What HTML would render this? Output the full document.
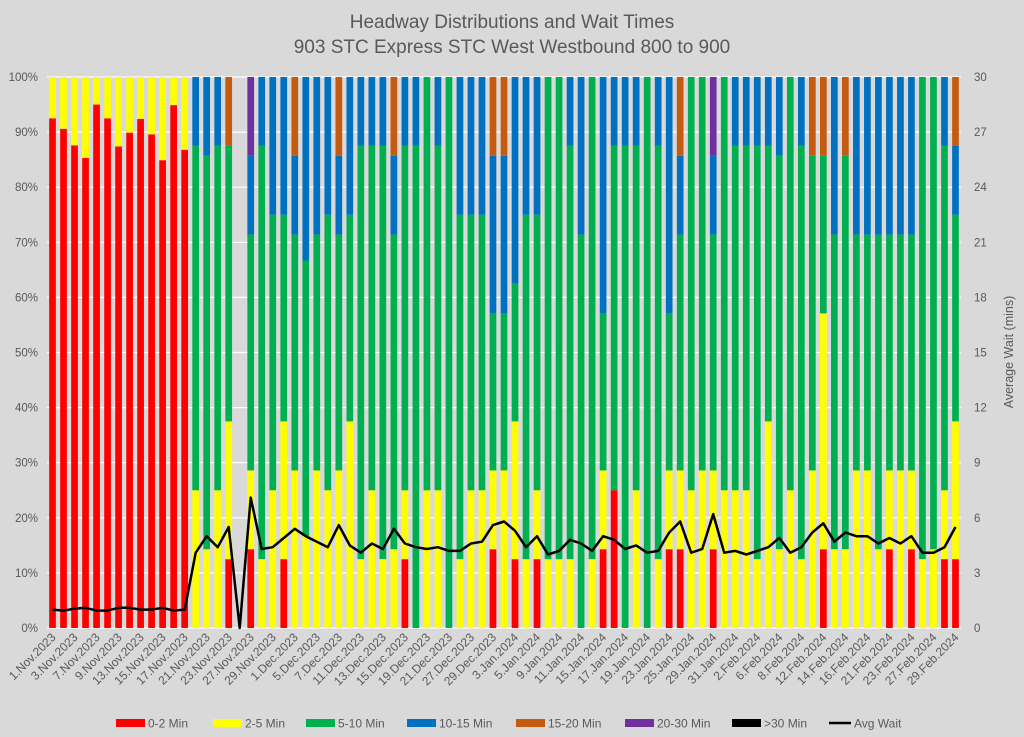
<!DOCTYPE html>
<html><head><meta charset="utf-8"><title>Headway Distributions</title>
<style>
html,body{margin:0;padding:0;background:#d9d9d9;}
svg{display:block;font-family:"Liberation Sans",sans-serif;}
</style></head>
<body>
<svg id="chart" width="1024" height="737" viewBox="0 0 1024 737" xmlns="http://www.w3.org/2000/svg">
<rect x="0" y="0" width="1024" height="737" fill="#d9d9d9"/>
<text x="512" y="28" text-anchor="middle" font-size="19" fill="#595959">Headway Distributions and Wait Times</text>
<text x="512" y="53" text-anchor="middle" font-size="19" fill="#595959">903 STC Express  STC West Westbound 800 to 900</text>
<g id="grid"></g>
<g id="bars"></g>
<g id="line"></g>
<g id="yaxis"></g>
<g id="y2axis"></g>
<g id="xaxis"></g>
<text transform="translate(1013,352) rotate(-90)" text-anchor="middle" font-size="12.5" fill="#595959">Average Wait (mins)</text>
<g id="legend"></g>
</svg>
<script>
const categories = ["1.Nov.2023","2.Nov.2023","3.Nov.2023","6.Nov.2023","7.Nov.2023","8.Nov.2023","9.Nov.2023","10.Nov.2023","13.Nov.2023","14.Nov.2023","15.Nov.2023","16.Nov.2023","17.Nov.2023","20.Nov.2023","21.Nov.2023","22.Nov.2023","23.Nov.2023","24.Nov.2023","27.Nov.2023","28.Nov.2023","29.Nov.2023","30.Nov.2023",
"1.Dec.2023","4.Dec.2023","5.Dec.2023","6.Dec.2023","7.Dec.2023","8.Dec.2023","11.Dec.2023","12.Dec.2023","13.Dec.2023","14.Dec.2023","15.Dec.2023","18.Dec.2023","19.Dec.2023","20.Dec.2023","21.Dec.2023","22.Dec.2023","27.Dec.2023","28.Dec.2023","29.Dec.2023",
"2.Jan.2024","3.Jan.2024","4.Jan.2024","5.Jan.2024","8.Jan.2024","9.Jan.2024","10.Jan.2024","11.Jan.2024","12.Jan.2024","15.Jan.2024","16.Jan.2024","17.Jan.2024","18.Jan.2024","19.Jan.2024","22.Jan.2024","23.Jan.2024","24.Jan.2024","25.Jan.2024","26.Jan.2024","29.Jan.2024","30.Jan.2024","31.Jan.2024",
"1.Feb.2024","2.Feb.2024","5.Feb.2024","6.Feb.2024","7.Feb.2024","8.Feb.2024","9.Feb.2024","12.Feb.2024","13.Feb.2024","14.Feb.2024","15.Feb.2024","16.Feb.2024","20.Feb.2024","21.Feb.2024","22.Feb.2024","23.Feb.2024","26.Feb.2024","27.Feb.2024","28.Feb.2024","29.Feb.2024"];

const min0to2 = [92.5,90.6,87.6,85.3,95.0,92.5,87.4,89.9,92.4,89.6,84.9,94.9,86.8,
0,0,0,12.5,0,14.3,0,0,12.5,0,0,0,0,0,0,0,0,0,0,12.5,0,0,0,0,0,0,0,14.3,0,
12.5,0,12.5,0,0,0,0,0,14.3,25,0,0,0,0,14.3,14.3,0,0,14.3,0,0,
0,0,0,0,0,0,0,14.3,0,0,0,0,0,14.3,0,14.3,0,0,12.5,12.5];
const min2to5 = [7.5,9.4,12.4,14.7,5.0,7.5,12.6,10.1,7.6,10.4,15.1,5.1,13.2,
25,14.3,25,25,0,14.3,12.5,25,25,28.6,16.7,28.6,25,28.6,37.5,12.5,25,12.5,14.3,12.5,0,25,25,0,12.5,25,25,14.3,28.6,
25,12.5,12.5,12.5,12.5,12.5,0,12.5,14.3,0,0,25,0,12.5,14.3,14.3,25,28.6,14.3,25,25,
25,12.5,37.5,14.3,25,12.5,28.6,42.8,14.3,14.3,28.6,28.6,14.3,14.3,28.6,14.3,12.5,14.3,12.5,25];
const min5to10 = [0,0,0,0,0,0,0,0,0,0,0,0,0,
62.5,71.4,62.5,50,0,42.8,75,50,37.5,42.8,50,42.8,50,42.8,37.5,75,62.5,75,57.1,62.5,87.5,75,62.5,100,62.5,50,50,28.5,28.5,
25,62.5,50,87.5,87.5,75,71.4,87.5,28.5,62.5,87.5,62.5,100,75,28.5,42.8,75,71.4,42.8,75,62.5,
62.5,75,50,71.4,75,75,57.1,28.6,57.1,71.4,42.8,42.8,57.1,42.8,42.8,42.8,87.5,85.7,62.5,37.5];
const min10to15 = [0,0,0,0,0,0,0,0,0,0,0,0,0,
12.5,14.3,12.5,0,0,14.3,12.5,25,25,14.3,33.3,28.6,25,14.3,25,12.5,12.5,12.5,14.3,12.5,12.5,0,12.5,0,25,25,25,28.6,28.6,
37.5,25,25,0,0,12.5,28.6,0,42.9,12.5,12.5,12.5,0,12.5,42.9,14.3,0,0,14.3,0,12.5,
12.5,12.5,12.5,14.3,0,12.5,0,0,28.6,0,28.6,28.6,28.6,28.6,28.6,28.6,0,0,12.5,12.5];
const min15to20 = [0,0,0,0,0,0,0,0,0,0,0,0,0,
0,0,0,12.5,0,0,0,0,0,14.3,0,0,0,14.3,0,0,0,0,14.3,0,0,0,0,0,0,0,0,14.3,14.3,
0,0,0,0,0,0,0,0,0,0,0,0,0,0,0,14.3,0,0,0,0,0,
0,0,0,0,0,0,14.3,14.3,0,14.3,0,0,0,0,0,0,0,0,0,12.5];
const min20to30 = [0,0,0,0,0,0,0,0,0,0,0,0,0,
0,0,0,0,0,14.3,0,0,0,0,0,0,0,0,0,0,0,0,0,0,0,0,0,0,0,0,0,0,0,
0,0,0,0,0,0,0,0,0,0,0,0,0,0,0,0,0,0,14.3,0,0,
0,0,0,0,0,0,0,0,0,0,0,0,0,0,0,0,0,0,0,0];
const min30plus = new Array(83).fill(0);
const avgWait = [1.0,0.95,1.05,1.1,0.95,0.95,1.1,1.1,1.0,1.0,1.1,0.95,1.0,
4.1,5.0,4.4,5.5,0,7.1,4.3,4.4,4.9,5.4,5.0,4.7,4.4,5.6,4.5,4.1,4.6,4.3,5.4,4.6,4.4,4.3,4.4,4.2,4.2,4.6,4.7,5.6,5.8,
5.3,4.4,5.0,4.0,4.2,4.8,4.6,4.2,5.0,4.8,4.3,4.5,4.1,4.2,5.2,5.8,4.1,4.3,6.2,4.1,4.2,
4.0,4.2,4.4,4.9,4.1,4.4,5.2,5.7,4.7,5.2,5.0,5.0,4.6,4.9,4.6,5.0,4.1,4.1,4.4,5.5];
const leftTicks = ["0%","10%","20%","30%","40%","50%","60%","70%","80%","90%","100%"];
const rightTicks = ["0","3","6","9","12","15","18","21","24","27","30"];
const seriesNames = ["0-2 Min","2-5 Min","5-10 Min","10-15 Min","15-20 Min","20-30 Min",">30 Min"];

const NS="http://www.w3.org/2000/svg";
const colors=["#ff0000","#ffff00","#00b050","#0070c0","#c55a11","#7030a0","#000000"];
const plotL=47, plotR=961, plotT=77, plotB=628;
const n=categories.length, step=(plotR-plotL)/n, bw=6.7;
function xc(i){return plotL+step*(i+0.5);}
function yp(p){return plotB-(plotB-plotT)*p/100;}
function yw(w){return plotB-(plotB-plotT)*w/30;}
function mk(tag,attrs,parent){const e=document.createElementNS(NS,tag);for(const k in attrs)e.setAttribute(k,attrs[k]);parent.appendChild(e);return e;}

const grid=document.getElementById('grid');
const ya=document.getElementById('yaxis'), y2=document.getElementById('y2axis');
leftTicks.forEach((t,k)=>{
  const y=yp(k*10);
  const l=mk('line',{x1:plotL,x2:plotR,y1:y,y2:y,stroke:'#ffffff','stroke-width':1.2},grid);
  
  
  const tx=mk('text',{x:38,y:y+4,'text-anchor':'end','font-size':11.5,fill:'#595959'},ya);
  tx.textContent=t;
  
  
});
rightTicks.forEach((t,k)=>{
  const y=yw(+t);
  const tx=mk('text',{x:974,y:y+4,'text-anchor':'start','font-size':11.5,fill:'#595959'},y2);
  tx.textContent=t;
  
  
});

const series=[min0to2,min2to5,min5to10,min10to15,min15to20,min20to30,min30plus];
const bars=document.getElementById('bars');
for(let i=0;i<n;i++){
  let cum=0;
  series.forEach((s,si)=>{
    const v=s[i]; if(!v) return;
    const y0=yp(cum), y1=yp(Math.min(100,cum+v));
    const r=mk('rect',{x:xc(i)-bw/2,y:y1,width:bw,height:y0-y1,fill:colors[si]},bars);
    
    
    cum+=v;
  });
}
const pts=avgWait.map((w,i)=>xc(i).toFixed(1)+','+yw(w).toFixed(1)).join(' ');
const pl=mk('polyline',{points:pts,fill:'none',stroke:'#000','stroke-width':2.5,'stroke-linejoin':'round'},document.getElementById('line'));



const xa=document.getElementById('xaxis');
categories.forEach((c,i)=>{
  if(i%2) return;
  const x=xc(i)+4, y=plotB+10;
  const t=mk('text',{transform:`translate(${x},${y}) rotate(-45)`,'text-anchor':'end','font-size':12,fill:'#595959'},xa);
  t.textContent=c;
  
  
});

const lg=document.getElementById('legend');
const lx=[116,213,306,407,516,625,732];
seriesNames.forEach((nm,k)=>{
  const g=mk('g',{},lg);
  
  
  mk('rect',{x:lx[k],y:719,width:29,height:8,fill:colors[k]},g);
  const t=mk('text',{x:lx[k]+32,y:727.5,'font-size':12,fill:'#595959'},g);
  t.textContent=nm;
});
const g2=mk('g',{},lg);


mk('line',{x1:829,x2:851,y1:723,y2:723,stroke:'#000','stroke-width':2.5},g2);
const t2=mk('text',{x:854,y:727.5,'font-size':12,fill:'#595959'},g2);
t2.textContent='Avg Wait';
</script>
</body></html>
